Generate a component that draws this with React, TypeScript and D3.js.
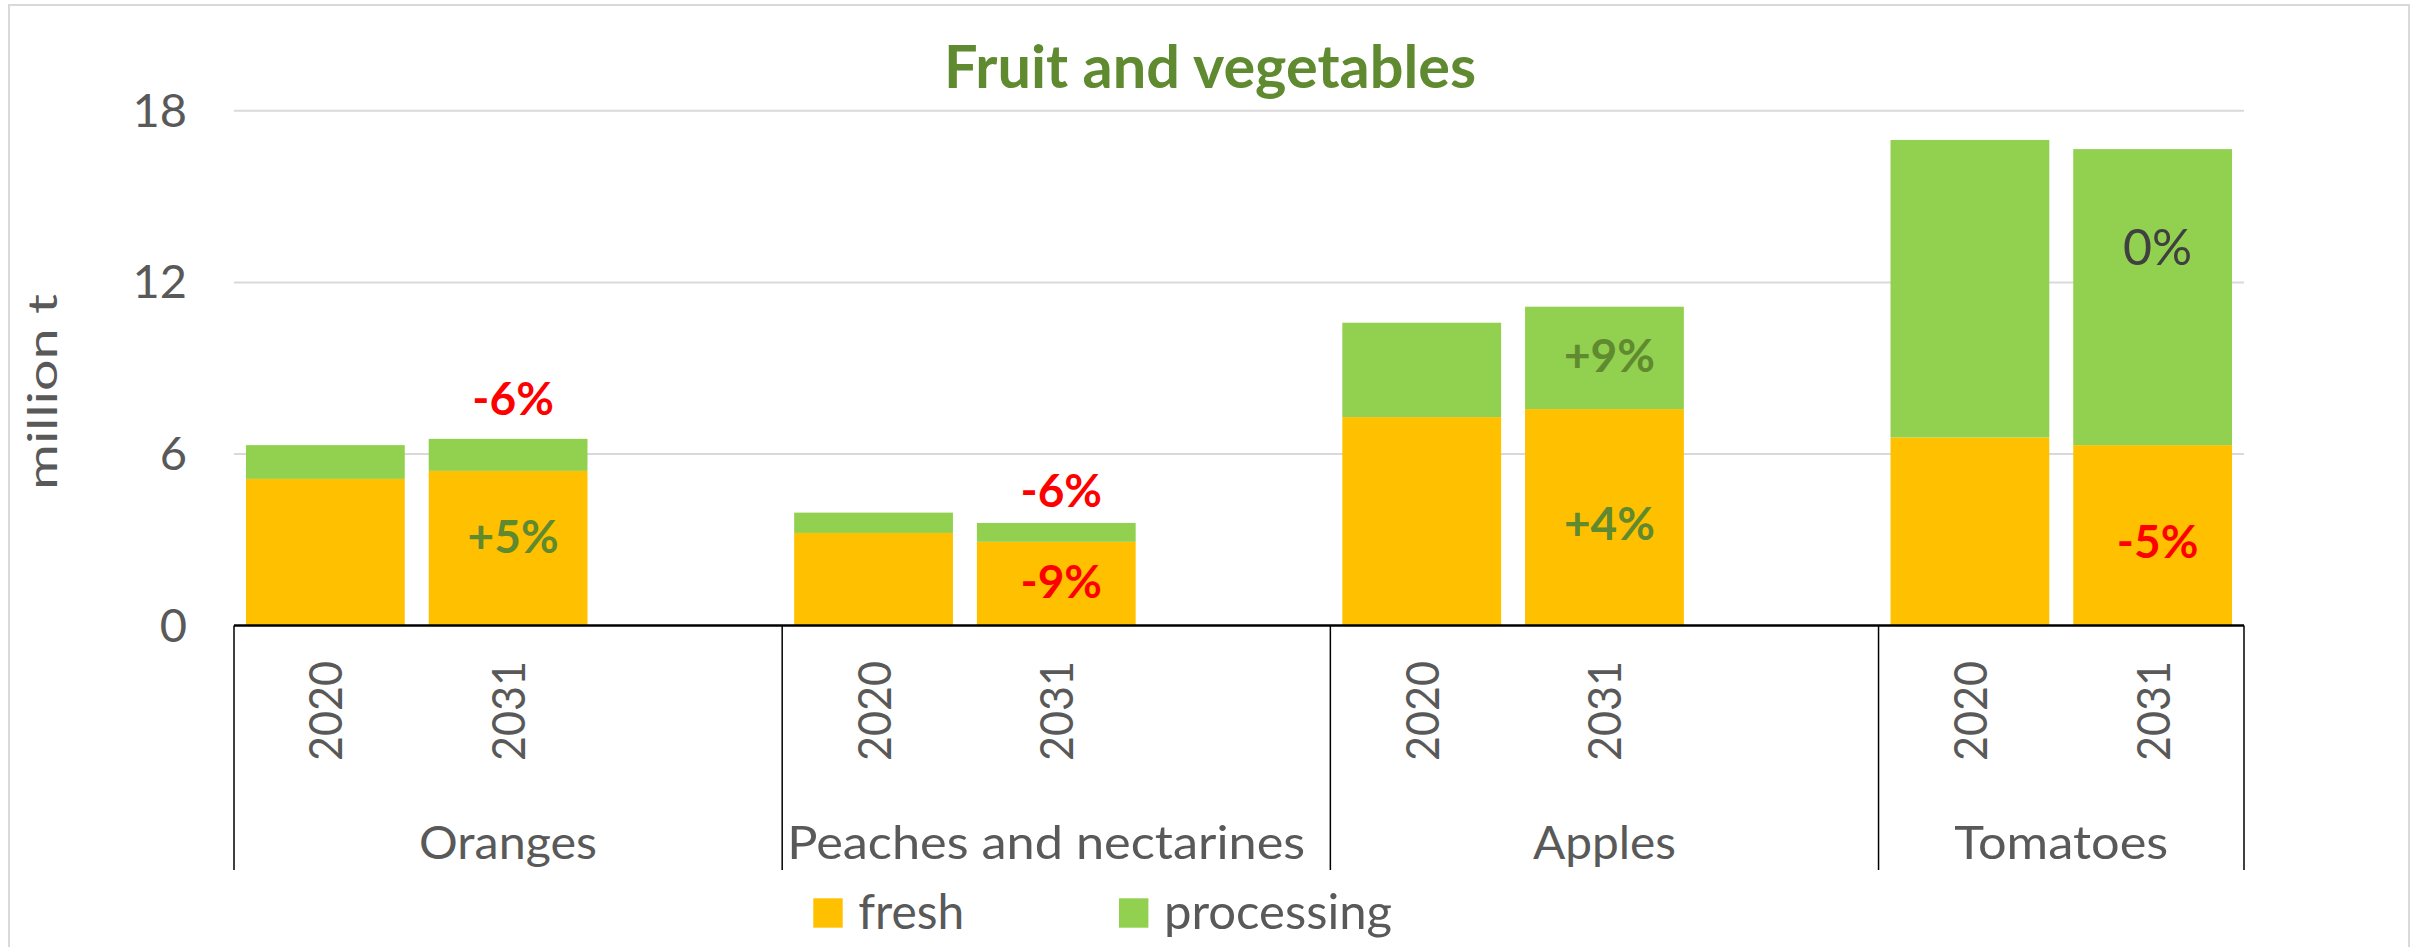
import React from "react";
import * as d3 from "d3";

// ---------- data ----------
const categories = ["Oranges", "Peaches and nectarines", "Apples", "Tomatoes"];
const years = ["2020", "2031"];
const fresh2020 = [5.13, 3.24, 7.29, 6.58];
const fresh2031 = [5.41, 2.93, 7.57, 6.31];
const processing2020 = [1.18, 0.71, 3.3, 10.4];
const processing2031 = [1.12, 0.66, 3.58, 10.35];
const yTicks = [0, 6, 12, 18];
const seriesNames = ["fresh", "processing"];
const chartTitle = "Fruit and vegetables";
const yAxisTitle = "million t";
// change annotations on the 2031 bars (y = baseline in data units)
const changeLabels = [
  { cat: 0, text: "-6%", y: 7.36, kind: "neg" },
  { cat: 0, text: "+5%", y: 2.54, kind: "pos" },
  { cat: 1, text: "-6%", y: 4.13, kind: "neg" },
  { cat: 1, text: "-9%", y: 0.95, kind: "neg" },
  { cat: 2, text: "+9%", y: 8.87, kind: "pos" },
  { cat: 2, text: "+4%", y: 2.99, kind: "pos" },
  { cat: 3, text: "0%", y: 12.6, kind: "zero" },
  { cat: 3, text: "-5%", y: 2.36, kind: "neg" },
];

// ---------- styles ----------
const W = 2423;
const H = 947;
const FONT = "Lato, 'Open Sans', sans-serif";
const TEXT_GRAY = "#595959";
const COLORS = { fresh: "#FFC000", processing: "#92D050" };
const GREEN_TXT = "#5F8A2F";
const RED_TXT = "#FF0000";
const plot = { left: 234, right: 2244, top: 110.8, bottom: 625.6 };
const catLabelLen: Record<string, number> = {
  Oranges: 178,
  "Peaches and nectarines": 518,
  Apples: 143,
  Tomatoes: 214,
};

type Slot = { key: string; cat: number; year: string | null };

export default function App() {
  const slots: Slot[] = categories.flatMap((c, i) => {
    const s: Slot[] = years.map((y) => ({ key: `${c}|${y}`, cat: i, year: y }));
    if (i < categories.length - 1) s.push({ key: `${c}|gap`, cat: i, year: null });
    return s;
  });

  const pad = 0.131;
  const x = d3
    .scaleBand<string>()
    .domain(slots.map((s) => s.key))
    .range([plot.left, plot.right])
    .paddingInner(pad)
    .paddingOuter(pad / 2);
  const bw = x.bandwidth();
  const step = x.step();
  const half = (step - bw) / 2;

  const y = d3.scaleLinear().domain([0, 18]).range([plot.bottom, plot.top]);

  const rows = categories.flatMap((c, i) => [
    { key: `${c}|2020`, cat: i, year: "2020", fresh: fresh2020[i], processing: processing2020[i] },
    { key: `${c}|2031`, cat: i, year: "2031", fresh: fresh2031[i], processing: processing2031[i] },
  ]);
  const stack = d3.stack<any>().keys(seriesNames)(rows);

  const groups = categories.map((c, i) => {
    const ks = slots.filter((s) => s.cat === i).map((s) => s.key);
    const x0 = (x(ks[0]) as number) - half;
    const x1 = (x(ks[ks.length - 1]) as number) + bw + half;
    return { name: c, x0, x1 };
  });
  const boundaries = [groups[0].x0, ...groups.map((g) => g.x1)];

  const axisY = y(0);
  const sepBottom = 870;

  return (
    <svg
      width={W}
      height={H}
      style={{ position: "absolute", left: 0, top: 0, background: "#fff" }}
      fontFamily={FONT}
    >
      <rect x={0} y={0} width={W} height={H} fill="#fff" />
      <rect x={9} y={5} width={2400} height={960} fill="none" stroke="#D9D9D9" strokeWidth={2} />

      {/* title */}
      <text
        x={1210}
        y={87.5}
        textAnchor="middle"
        fontSize={60}
        fontWeight="bold"
        fill={GREEN_TXT}
        textLength={532}
        lengthAdjust="spacingAndGlyphs"
      >
        {chartTitle}
      </text>

      {/* gridlines */}
      {yTicks
        .filter((t) => t > 0)
        .map((t) => (
          <line key={t} x1={plot.left} x2={plot.right} y1={y(t)} y2={y(t)} stroke="#D9D9D9" strokeWidth={2} />
        ))}

      {/* tick labels */}
      {yTicks.map((t) => (
        <text key={t} x={187} y={y(t) + 16} textAnchor="end" fontSize={47} fill={TEXT_GRAY}>
          {t}
        </text>
      ))}

      {/* y-axis title */}
      <text
        transform={`translate(57, 392) rotate(-90)`}
        textAnchor="middle"
        fontSize={40}
        fill={TEXT_GRAY}
        textLength={196}
        lengthAdjust="spacingAndGlyphs"
      >
        {yAxisTitle}
      </text>

      {/* bars */}
      {stack.map((layer) => (
        <g key={layer.key} fill={(COLORS as any)[layer.key]}>
          {layer.map((d: any) => (
            <rect
              key={d.data.key}
              x={x(d.data.key)}
              y={y(d[1])}
              width={bw}
              height={y(d[0]) - y(d[1])}
            />
          ))}
        </g>
      ))}

      {/* change labels */}
      {changeLabels.map((l, i) => {
        const key = `${categories[l.cat]}|2031`;
        const cx = (x(key) as number) + bw / 2;
        const fill = l.kind === "neg" ? RED_TXT : l.kind === "pos" ? GREEN_TXT : "#404040";
        return (
          <text
            key={i}
            x={cx + 5}
            y={y(l.y)}
            textAnchor="middle"
            fontSize={l.kind === "zero" ? 50 : 46}
            fontWeight={l.kind === "zero" ? "normal" : "bold"}
            fill={fill}
          >
            {l.text}
          </text>
        );
      })}

      {/* category axis */}
      <line x1={plot.left} x2={plot.right} y1={axisY} y2={axisY} stroke="#000" strokeWidth={2.5} />
      {boundaries.map((b, i) => (
        <line key={i} x1={b} x2={b} y1={axisY} y2={sepBottom} stroke="#000" strokeWidth={1.5} />
      ))}

      {/* year labels */}
      {slots
        .filter((s) => s.year)
        .map((s) => {
          const cx = (x(s.key) as number) + bw / 2;
          return (
            <text
              key={s.key}
              transform={`translate(${cx + 17}, 711) rotate(-90)`}
              textAnchor="middle"
              fontSize={46}
              fill={TEXT_GRAY}
              textLength={100}
              lengthAdjust="spacingAndGlyphs"
            >
              {s.year}
            </text>
          );
        })}

      {/* category labels */}
      {groups.map((g) => {
        const len = catLabelLen[g.name];
        const wide = len > 0.8 * (g.x1 - g.x0);
        return (
          <text
            key={g.name}
            x={wide ? g.x0 + 5 : (g.x0 + g.x1) / 2}
            y={859}
            textAnchor={wide ? "start" : "middle"}
            fontSize={46}
            fill={TEXT_GRAY}
            textLength={len}
            lengthAdjust="spacingAndGlyphs"
          >
            {g.name}
          </text>
        );
      })}

      {/* legend */}
      {seriesNames.map((s, i) => {
        const lx = [813.3, 1119][i];
        const tl = [106, 228][i];
        return (
          <g key={s}>
            <rect x={lx} y={898.3} width={29.4} height={29.4} fill={(COLORS as any)[s]} />
            <text
              x={lx + 45}
              y={929.3}
              fontSize={48}
              fill={TEXT_GRAY}
              textLength={tl}
              lengthAdjust="spacingAndGlyphs"
            >
              {s}
            </text>
          </g>
        );
      })}
    </svg>
  );
}
